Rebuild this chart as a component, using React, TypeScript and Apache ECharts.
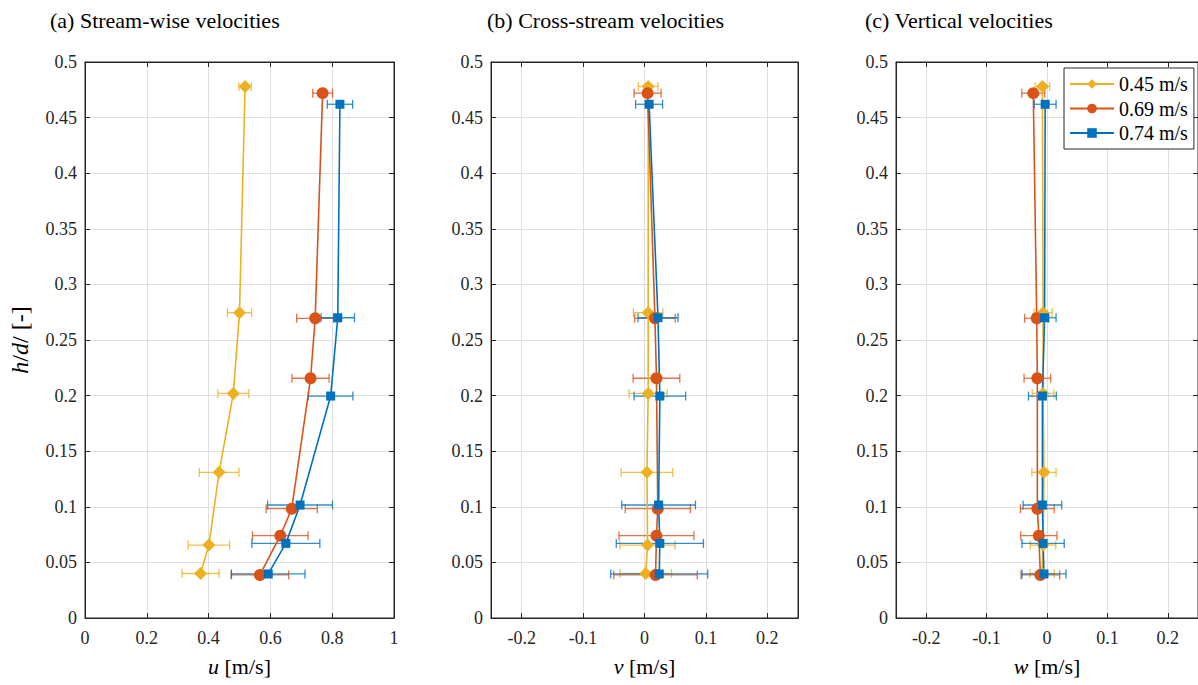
import React, { useEffect, useRef } from "react";
import * as echarts from "echarts";

// ---- data ----
const seriesNames = ["0.45 m/s", "0.69 m/s", "0.74 m/s"];
const colors = ["#EDB120", "#D95319", "#0072BD"];
const symbols = ["diamond", "circle", "rect"];
const symbolSizes = [13, 12, 9];

const hSlow = [0.478, 0.2746, 0.202, 0.131, 0.0656, 0.04];
const hMid = [0.472, 0.2695, 0.2156, 0.0983, 0.074, 0.0387];
const hFast = [0.462, 0.27, 0.1996, 0.1016, 0.0671, 0.0396];

const uSlow = [0.518, 0.5, 0.48, 0.434, 0.401, 0.374];
const uSlowErr = [0.02, 0.039, 0.05, 0.064, 0.067, 0.06];
const uMid = [0.769, 0.745, 0.73, 0.669, 0.632, 0.566];
const uMidErr = [0.032, 0.06, 0.06, 0.083, 0.09, 0.093];
const uFast = [0.825, 0.818, 0.795, 0.696, 0.65, 0.593];
const uFastErr = [0.041, 0.054, 0.072, 0.105, 0.11, 0.119];

const vSlow = [0.006, 0.006, 0.006, 0.004, 0.005, 0.002];
const vSlowErr = [0.016, 0.024, 0.031, 0.042, 0.045, 0.042];
const vMid = [0.005, 0.017, 0.0195, 0.0216, 0.0195, 0.018];
const vMidErr = [0.022, 0.033, 0.038, 0.053, 0.061, 0.068];
const vFast = [0.0075, 0.022, 0.025, 0.023, 0.025, 0.024];
const vFastErr = [0.022, 0.0325, 0.042, 0.06, 0.071, 0.079];

const wSlow = [-0.0076, -0.0065, -0.0065, -0.005, -0.0065, -0.008];
const wSlowErr = [0.012, 0.015, 0.018, 0.02, 0.021, 0.02];
const wMid = [-0.0227, -0.017, -0.016, -0.016, -0.0135, -0.011];
const wMidErr = [0.019, 0.02, 0.022, 0.028, 0.03, 0.032];
const wFast = [-0.003, -0.004, -0.0076, -0.0076, -0.0065, -0.005];
const wFastErr = [0.018, 0.019, 0.023, 0.032, 0.035, 0.0365];

const panelTitles = [
  "(a) Stream-wise velocities",
  "(b) Cross-stream velocities",
  "(c) Vertical velocities",
];
const xNames = ["{i|u}{n| [m/s]}", "{i|v}{n| [m/s]}", "{i|w}{n| [m/s]}"];
const yName = "{i|h}{n|/}{i|d}{n|/ [-]}";
const xTicksA = [0, 0.2, 0.4, 0.6, 0.8, 1];
const xTicksBC = [-0.2, -0.1, 0, 0.1, 0.2];
const yTicks = [0, 0.05, 0.1, 0.15, 0.2, 0.25, 0.3, 0.35, 0.4, 0.45, 0.5];

const FONT = "Liberation Serif";
const AX = "#262626";
const GRIDC = "#dedede";

const fmt = (v: number) => String(parseFloat(Number(v).toFixed(2)));

export default function App() {
  const ref = useRef<HTMLDivElement>(null);
  useEffect(() => {
    if (!ref.current) return;
    const chart = echarts.init(ref.current, null, { renderer: "svg" });

    const heights = [hSlow, hMid, hFast];
    const panels = [
      { vals: [uSlow, uMid, uFast], errs: [uSlowErr, uMidErr, uFastErr] },
      { vals: [vSlow, vMid, vFast], errs: [vSlowErr, vMidErr, vFastErr] },
      { vals: [wSlow, wMid, wFast], errs: [wSlowErr, wMidErr, wFastErr] },
    ];
    const lefts = [85, 491, 896];
    const widths = [309, 307, 307];
    const titleLefts = [50, 487, 865];
    const xMin = [0, -0.25, -0.25];
    const xMax = [1, 0.25, 0.25];

    const grids = lefts.map((l, i) => ({
      left: l,
      top: 62,
      width: widths[i],
      height: 556,
      show: true,
      borderColor: AX,
      borderWidth: 1,
      backgroundColor: "#fff",
    }));

    const xAxes: any[] = [];
    const yAxes: any[] = [];
    for (let i = 0; i < 3; i++) {
      const ticks = i === 0 ? xTicksA : xTicksBC;
      xAxes.push({
        type: "value",
        gridIndex: i,
        position: "bottom",
        min: xMin[i],
        max: xMax[i],
        axisLine: { show: true, onZero: false, lineStyle: { color: AX, width: 1 } },
        axisTick: { show: true, inside: true, length: 5, customValues: ticks, lineStyle: { color: AX } },
        axisLabel: { show: false, customValues: ticks },
        splitLine: { show: true, lineStyle: { color: GRIDC, width: 1 } },
      });
      yAxes.push({
        type: "value",
        gridIndex: i,
        position: "left",
        min: 0,
        max: 0.5,
        interval: 0.05,
        axisLine: { show: true, onZero: false, lineStyle: { color: AX, width: 1 } },
        axisTick: { show: true, inside: true, length: 5, lineStyle: { color: AX } },
        axisLabel: { show: false },
        splitLine: { show: true, lineStyle: { color: GRIDC, width: 1 } },
      });
    }
    for (let i = 0; i < 3; i++) {
      const ticks = i === 0 ? xTicksA : xTicksBC;
      xAxes.push({
        type: "value",
        gridIndex: i,
        position: "top",
        min: xMin[i],
        max: xMax[i],
        axisLine: { show: true, onZero: false, lineStyle: { color: AX, width: 1 } },
        axisTick: { show: true, inside: true, length: 5, customValues: ticks, lineStyle: { color: AX } },
        axisLabel: { show: false, customValues: ticks },
        splitLine: { show: false },
      });
      yAxes.push({
        type: "value",
        gridIndex: i,
        position: "right",
        min: 0,
        max: 0.5,
        interval: 0.05,
        axisLine: { show: true, onZero: false, lineStyle: { color: AX, width: 1 } },
        axisTick: { show: true, inside: true, length: 5, lineStyle: { color: AX } },
        axisLabel: { show: false },
        splitLine: { show: false },
      });
    }

    const makeErr = (color: string) => (params: any, api: any) => {
      const x = api.value(0);
      const y = api.value(1);
      const e = api.value(2);
      const p1 = api.coord([x - e, y]);
      const p2 = api.coord([x + e, y]);
      const c = 4.5;
      const st = { stroke: color, lineWidth: 1.3, opacity: 0.8 };
      return {
        type: "group",
        children: [
          { type: "line", shape: { x1: p1[0], y1: p1[1], x2: p2[0], y2: p2[1] }, style: st },
          { type: "line", shape: { x1: p1[0], y1: p1[1] - c, x2: p1[0], y2: p1[1] + c }, style: st },
          { type: "line", shape: { x1: p2[0], y1: p2[1] - c, x2: p2[0], y2: p2[1] + c }, style: st },
        ],
      };
    };

    const series: any[] = [];
    for (let p = 0; p < 3; p++) {
      for (let s = 0; s < 3; s++) {
        const vals = panels[p].vals[s];
        const errs = panels[p].errs[s];
        const hs = heights[s];
        series.push({
          type: "custom",
          name: "err" + p + s,
          xAxisIndex: p,
          yAxisIndex: p,
          renderItem: makeErr(colors[s]),
          data: vals.map((v, k) => [v, hs[k], errs[k]]),
          encode: { x: 0, y: 1 },
          silent: true,
          z: 2,
        });
        series.push({
          type: "line",
          name: seriesNames[s],
          xAxisIndex: p,
          yAxisIndex: p,
          data: vals.map((v, k) => [v, hs[k]]),
          symbol: symbols[s],
          symbolSize: symbolSizes[s],
          showSymbol: true,
          lineStyle: { color: colors[s], width: 1.6 },
          itemStyle: { color: colors[s] },
          color: colors[s],
          z: 2,
        });
      }
    }

    chart.setOption({
      animation: false,
      backgroundColor: "#fff",
      textStyle: { fontFamily: FONT },
      title: panelTitles.map((t, i) => ({
        text: t,
        left: titleLefts[i],
        top: 9,
        padding: 0,
        textStyle: { fontFamily: FONT, fontSize: 22, fontWeight: "normal", color: "#000" },
      })),
      legend: {
        data: seriesNames,
        orient: "vertical",
        left: 1064,
        top: 68,
        itemWidth: 44,
        itemHeight: 12,
        itemGap: 4.5,
        padding: [6, 6, 6, 5],
        borderColor: AX,
        borderWidth: 1,
        borderRadius: 0,
        backgroundColor: "#fff",
        textStyle: { fontFamily: FONT, fontSize: 20, color: "#000" },
        z: 10,
      },
      grid: grids,
      xAxis: xAxes,
      yAxis: yAxes,
      series,
    });

    // tick labels and axis names, positioned through the axes' own scales
    const elements: any[] = [];
    const rich = (sz: number) => ({
      i: { fontFamily: FONT, fontSize: sz, fontStyle: "italic", fontWeight: "normal", fill: "#000" },
      n: { fontFamily: FONT, fontSize: sz, fontStyle: "normal", fontWeight: "normal", fill: "#000" },
    });
    const tickStyle = (text: string, align: string, va: string) => ({
      text,
      fontFamily: FONT,
      fontSize: 18,
      fontWeight: "normal",
      fontStyle: "normal",
      fill: AX,
      align,
      verticalAlign: va,
    });
    for (let i = 0; i < 3; i++) {
      const ticks = i === 0 ? xTicksA : xTicksBC;
      const finder = { xAxisIndex: i, yAxisIndex: i };
      ticks.forEach((t) => {
        const p = chart.convertToPixel(finder, [t, 0]) as number[];
        elements.push({
          type: "text",
          x: p[0],
          y: p[1] + 11,
          silent: true,
          style: tickStyle(fmt(t), "center", "top"),
        });
      });
      yTicks.forEach((t) => {
        const p = chart.convertToPixel(finder, [xMin[i], t]) as number[];
        elements.push({
          type: "text",
          x: p[0] - 8,
          y: p[1],
          silent: true,
          style: tickStyle(fmt(t), "right", "middle"),
        });
      });
      const mid = chart.convertToPixel(finder, [(xMin[i] + xMax[i]) / 2, 0]) as number[];
      elements.push({
        type: "text",
        x: mid[0],
        y: mid[1] + 37,
        silent: true,
        style: {
          text: xNames[i],
          rich: rich(22),
          fontFamily: FONT,
          fontSize: 22,
          fontWeight: "normal",
          fill: "#000",
          align: "center",
          verticalAlign: "top",
        },
      });
    }
    const ymid = chart.convertToPixel({ xAxisIndex: 0, yAxisIndex: 0 }, [0, 0.25]) as number[];
    elements.push({
      type: "text",
      x: ymid[0] - 65,
      y: ymid[1],
      rotation: Math.PI / 2,
      silent: true,
      style: {
        text: yName,
        rich: rich(24),
        fontFamily: FONT,
        fontSize: 24,
        fontWeight: "normal",
        fill: "#000",
        align: "center",
        verticalAlign: "middle",
      },
    });
    chart.setOption({ graphic: elements });

    return () => chart.dispose();
  }, []);

  return (
    <div
      ref={ref}
      style={{ position: "fixed", left: 0, top: 0, width: 1198, height: 685, background: "#fff" }}
    />
  );
}
